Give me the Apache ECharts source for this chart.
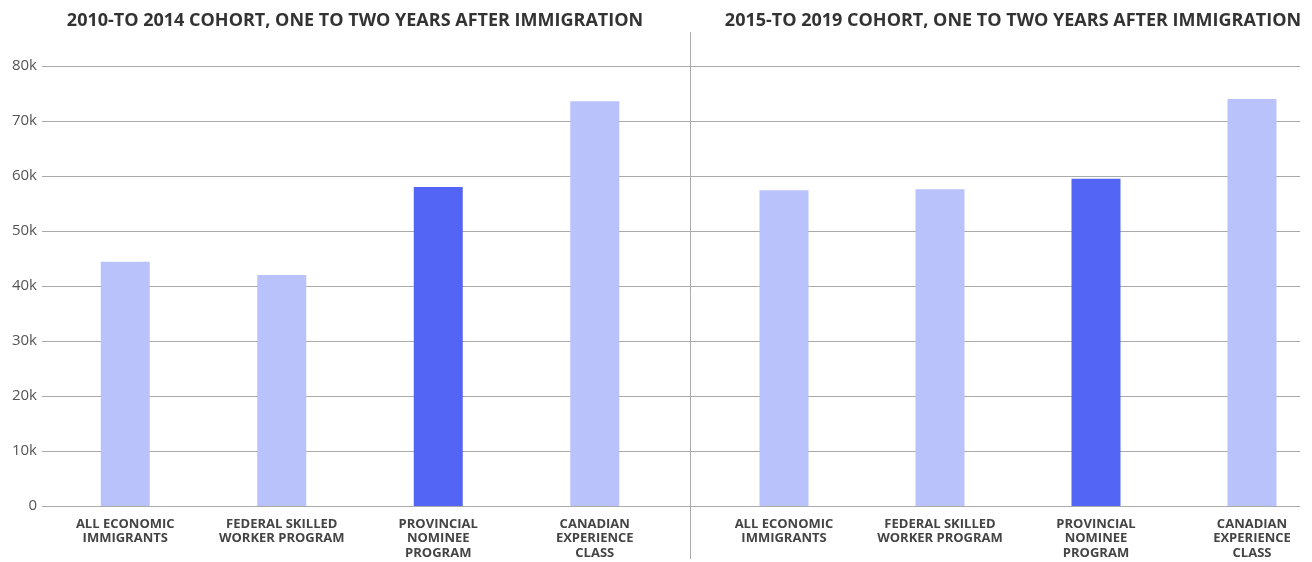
<!DOCTYPE html>
<html>
<head>
<meta charset="utf-8">
<title>Cohort earnings</title>
<script src="https://cdn.jsdelivr.net/npm/echarts@6/dist/echarts.min.js"></script>
<style>
    html, body { margin: 0; padding: 0; background: #fff; overflow: hidden; }
    /* the right panel runs a little past the window edge, as in the original */
    #chart_1 { width: 1340px; height: 562px; }
</style>
</head>
<body>
<div id="chart_1"></div>
<script>
// data
var categories = ['ALL ECONOMIC\nIMMIGRANTS', 'FEDERAL SKILLED\nWORKER PROGRAM', 'PROVINCIAL\nNOMINEE\nPROGRAM', 'CANADIAN\nEXPERIENCE\nCLASS'];
var cohort2010 = [44400, 42000, 58000, 73600];
var cohort2015 = [57400, 57600, 59500, 74000];
var panelTitles = ['2010-TO 2014 COHORT, ONE TO TWO YEARS AFTER IMMIGRATION', '2015-TO 2019 COHORT, ONE TO TWO YEARS AFTER IMMIGRATION'];
var highlightIndex = 2;   // provincial nominee program
var yMax = 80000;
var yStep = 10000;

var lightBlue = '#bac2fc';
var darkBlue = '#5365f5';
var gridColor = '#aaaaaa';

function barData(values){
    var out = [];
    for (var i = 0; i < values.length; i++) {
        out.push({
            value: values[i],
            itemStyle: { color: i === highlightIndex ? darkBlue : lightBlue }
        });
    }
    return out;
}

function initChart(){
    var myChart1 = echarts.init(document.getElementById('chart_1'));

    var labelStyle = {
        fontFamily: 'Open Sans',
        fontWeight: 'bold',
        fontSize: 13,
        lineHeight: 14.5,
        color: '#444'
    };
    var titleStyle = { fontFamily: 'Open Sans', fontWeight: 'bold', fontSize: 18, color: '#333' };

    var option1 = {
        animation: false,
        title: [
            { text: panelTitles[0], left: 350, top: 7, textAlign: 'center', textStyle: titleStyle },
            { text: panelTitles[1], left: 1008, top: 7, textAlign: 'center', textStyle: titleStyle }
        ],
        // grids 0,1 only carry the gridlines, grids 2,3 carry the bars
        grid: [
            { left: 42, top: 66, width: 648, height: 440 },
            { left: 690, top: 66, width: 610, height: 440 },
            { left: 47, top: 66, width: 626, height: 440 },
            { left: 706, top: 66, width: 624, height: 440 }
        ],
        xAxis: [
            { gridIndex: 0, type: 'value', min: 0, max: 1, show: false },
            { gridIndex: 1, type: 'value', min: 0, max: 1, show: false },
            {
                gridIndex: 2, type: 'category', data: categories,
                axisLine: { show: false }, axisTick: { show: false },
                axisLabel: Object.assign({ margin: 11, interval: 0 }, labelStyle)
            },
            {
                gridIndex: 3, type: 'category', data: categories,
                axisLine: { show: false }, axisTick: { show: false },
                axisLabel: Object.assign({ margin: 11, interval: 0 }, labelStyle)
            }
        ],
        yAxis: [
            {
                gridIndex: 0, type: 'value', min: 0, max: yMax, interval: yStep,
                axisLine: { show: false }, axisTick: { show: false },
                axisLabel: {
                    margin: 5, fontFamily: 'Open Sans', fontSize: 15, color: '#555',
                    formatter: function (v) { return v === 0 ? '0' : (v / 1000) + 'k'; }
                },
                splitLine: { lineStyle: { color: gridColor, width: 1 } }
            },
            {
                gridIndex: 1, type: 'value', min: 0, max: yMax, interval: yStep,
                axisLine: { show: false }, axisTick: { show: false },
                axisLabel: { show: false },
                splitLine: { lineStyle: { color: gridColor, width: 1 } }
            },
            { gridIndex: 2, type: 'value', min: 0, max: yMax, interval: yStep, show: false, splitLine: { show: false } },
            { gridIndex: 3, type: 'value', min: 0, max: yMax, interval: yStep, show: false, splitLine: { show: false } }
        ],
        // divider between the two panels
        graphic: [
            {
                type: 'line',
                shape: { x1: 690.5, y1: 32, x2: 690.5, y2: 559 },
                style: { stroke: gridColor, lineWidth: 1 },
                z: 10
            }
        ],
        series: [
            {
                name: '2010-2014',
                type: 'bar',
                xAxisIndex: 2, yAxisIndex: 2,
                barWidth: 49,
                data: barData(cohort2010)
            },
            {
                name: '2015-2019',
                type: 'bar',
                xAxisIndex: 3, yAxisIndex: 3,
                barWidth: 49,
                data: barData(cohort2015)
            }
        ]
    };
    myChart1.setOption(option1);
}

initChart();
</script>
</body>
</html>
